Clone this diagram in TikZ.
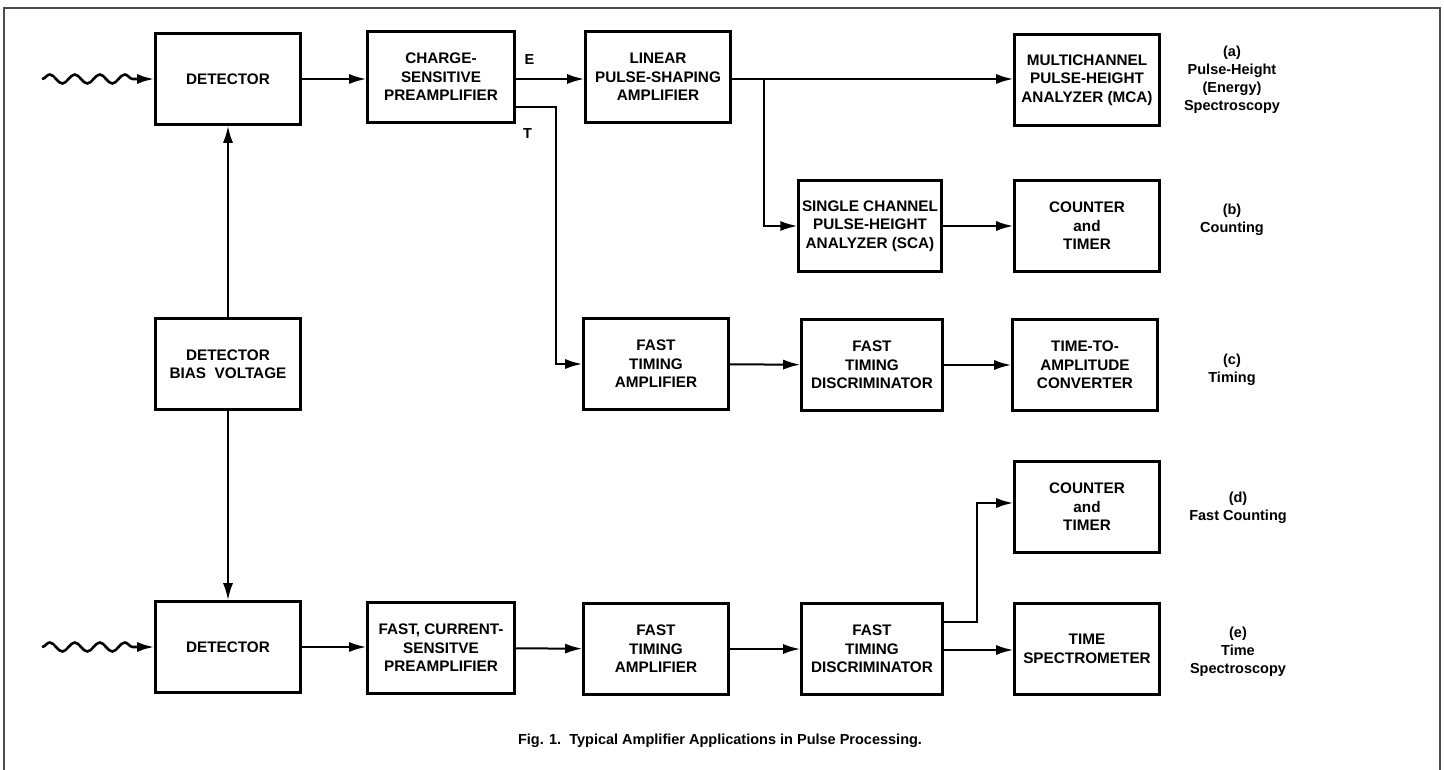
\documentclass[tikz,border=0pt]{standalone}
\usepackage{fontspec}
\setmainfont{Liberation Sans}
\usetikzlibrary{arrows.meta,calc,positioning,decorations.pathmorphing}

\begin{document}
\begin{tikzpicture}[x=1pt,y=-1pt,
  blk/.style={draw,line width=2.6pt,minimum width=145pt,minimum height=91pt,align=center,
    font=\fontsize{15.3}{18.5}\selectfont\bfseries},
  nar/.style={blk,minimum width=141pt},
  arr/.style={-{Latex[length=17pt,width=10pt]},line width=2pt},
  wav/.style={arr,line width=2.6pt,decorate,decoration={snake,amplitude=4.5pt,segment length=25pt,post length=17pt}},
  lbl/.style={align=center,font=\fontsize{14.5}{18}\selectfont\bfseries}]
\useasboundingbox (0,0) rectangle (1444,770);
\draw[black!70,line width=1.5pt] (4,770) |- (1440,8) -- (1440,770);
% top line (a)
\node[blk] (det1) at (228,79){DETECTOR};
\node[blk,minimum width=147pt] (pre1) at (441,77){CHARGE-\\SENSITIVE\\PREAMPLIFIER};
\node[blk] (lin) at (658,77){LINEAR\\PULSE-SHAPING\\AMPLIFIER};
\node[blk] (mca) at (1087,80){MULTICHANNEL\\PULSE-HEIGHT\\ANALYZER (MCA)};
\node[lbl] (la) at (1232,80){(a)\\Pulse-Height\\(Energy)\\Spectroscopy};
% (b)
\node[nar] (sca) at (870,226){SINGLE CHANNEL\\PULSE-HEIGHT\\ANALYZER (SCA)};
\node[blk] (ctr1) at (1087,226){COUNTER\\and\\TIMER};
\node[lbl] (lb) at (1232,220){(b)\\Counting};
% (c)
\node[blk] (bias) at (228,364){DETECTOR\\BIAS\ \ VOLTAGE};
\node[blk] (fta1) at (656,364){FAST\\TIMING\\AMPLIFIER};
\node[nar] (ftd1) at (872,365){FAST\\TIMING\\DISCRIMINATOR};
\node[blk] (tac) at (1085,365){TIME-TO-\\AMPLITUDE\\CONVERTER};
\node[lbl] (lc) at (1232,370){(c)\\Timing};
% (d) and (e)
\node[blk] (ctr2) at (1087,507){COUNTER\\and\\TIMER};
\node[lbl] (ld) at (1238,508){(d)\\Fast Counting};
\node[blk] (det2) at (228,647){DETECTOR};
\node[blk,minimum width=147pt] (pre2) at (441,648){FAST, CURRENT-\\SENSITVE\\PREAMPLIFIER};
\node[blk] (fta2) at (656,649){FAST\\TIMING\\AMPLIFIER};
\node[nar] (ftd2) at (872,649){FAST\\TIMING\\DISCRIMINATOR};
\node[blk] (tsp) at (1087,649){TIME\\SPECTROMETER};
\node[lbl] (le) at (1238,652){(e)\\Time\\Spectroscopy};
\node[lbl] (cap) at (720,741){Fig. 1.\ \ Typical Amplifier Applications in Pulse Processing.};
\node[lbl,inner sep=0pt,anchor=north west] (tl) at ([xshift=7pt,yshift=-5pt]pre1.south east){T};
\coordinate (in1) at (42,79);
\coordinate (in2) at (42,647);
\coordinate (br) at (764,79);
% connectors
\draw[wav] (in1) -- (det1.west);
\draw[arr] (det1.east) -- (det1.east -| pre1.west);
\draw[arr] ([yshift=-2pt]pre1.east) -- ([yshift=-2pt]pre1.east -| lin.west)
  node[pos=0.2,above=10pt,lbl]{E};
\draw[arr] ([yshift=-30pt]pre1.east) -- ++(40,0) |- (fta1.west);
\draw[arr] ([yshift=-2pt]lin.east) -- ([yshift=-2pt]lin.east -| mca.west);
\draw[arr] (br) |- (sca.west);
\draw[arr] (sca) -- (ctr1);
\draw[arr] (bias) -- (det1);
\draw[arr] (bias) -- (det2);
\draw[arr] (fta1) -- (ftd1);
\draw[arr] (ftd1) -- (tac);
\draw[wav] (in2) -- (det2.west);
\draw[arr] (det2.east) -- (det2.east -| pre2.west);
\draw[arr] (pre2) -- (fta2);
\draw[arr] (fta2) -- (ftd2);
\draw[arr] ([yshift=-1pt]ftd2.east) -- ([yshift=-1pt]ftd2.east -| tsp.west);
\draw[arr] ([yshift=27pt]ftd2.east) -- ++(33,0) |- ([yshift=4pt]ctr2.west);
\end{tikzpicture}
\end{document}
